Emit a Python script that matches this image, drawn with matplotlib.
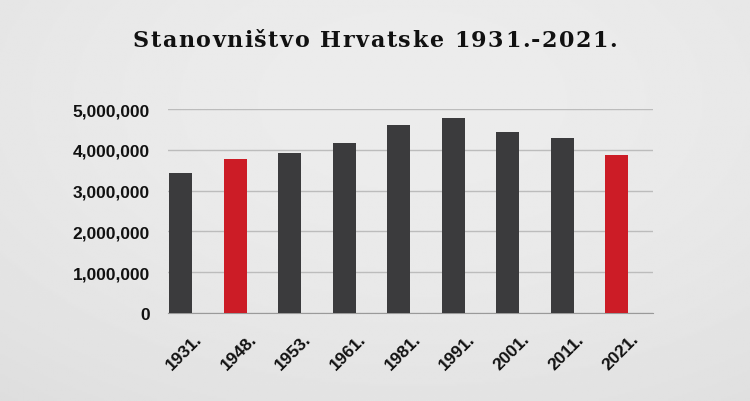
import numpy as np
import matplotlib.pyplot as plt
import matplotlib.transforms as mtrans

years = ['1931.', '1948.', '1953.', '1961.', '1981.', '1991.', '2001.', '2011.', '2021.']
population = [3430270, 3779858, 3936022, 4159696, 4601469, 4784265, 4437460, 4284889, 3871833]
highlight = ['1948.', '2021.']
title = 'Stanovništvo Hrvatske 1931.-2021.'

dark = '#3b3b3d'
red = '#cc1c26'
colors = [red if y in highlight else dark for y in years]

fig = plt.figure(figsize=(7.5, 4.02), dpi=100)

# soft gray background
bg = fig.add_axes([0, 0, 1, 1], zorder=-10)
yy, xx = np.mgrid[0:1:200j, 0:1:400j]
shade = 0.925 - 0.06 * ((xx - 0.55) ** 2 * 1.2 + (yy - 0.25) ** 2)
bg.imshow(shade, cmap='gray', vmin=0, vmax=1, aspect='auto', extent=[0, 1, 0, 1])
bg.axis('off')

ax = fig.add_axes([0.224, 0.219, 0.647, 0.507])
ax.patch.set_alpha(0)
x = np.arange(len(years))
ax.bar(x, population, width=0.42, color=colors, zorder=3)

ax.set_xlim(-0.23, 8.67)
ax.set_ylim(0, 5000000)
ax.set_yticks(np.arange(0, 5000001, 1000000))
ax.set_yticklabels([f'{v:,}' for v in range(0, 5000001, 1000000)],
                   fontfamily='Liberation Sans', fontweight='bold', fontsize=12.5)
ax.set_xticks(x)
ax.set_xticklabels(years, rotation=45, ha='center', fontfamily='Liberation Sans',
                   fontweight='bold', fontsize=12.5)
ax.tick_params(axis='both', length=0, colors='#111111')
ax.tick_params(axis='y', pad=13)
ax.tick_params(axis='x', pad=13)
shift = mtrans.ScaledTranslation(4 / 100, 0, fig.dpi_scale_trans)
for lab in ax.get_xticklabels():
    lab.set_transform(lab.get_transform() + shift)
ax.yaxis.grid(True, color='#bcbcbc', linewidth=1, zorder=0)
for s in ['top', 'right', 'left']:
    ax.spines[s].set_visible(False)
ax.spines['bottom'].set_color('#9a9a9a')

# letter-spaced title, drawn char by char
renderer = fig.canvas.get_renderer()
tstyle = dict(fontfamily='DejaVu Serif', fontweight='bold', fontsize=16, color='#111111')
widths = []
for ch in title:
    t = fig.text(0, 0, ch if ch != ' ' else 'n', **tstyle)
    w = t.get_window_extent(renderer).width
    if ch == ' ':
        w *= 0.5
    widths.append(w)
    t.remove()
tracking = 1.5
total = sum(widths) + tracking * (len(title) - 1)
xpos = 375 - total / 2
for ch, w in zip(title, widths):
    if ch != ' ':
        fig.text(xpos / 750, 0.883, ch, ha='left', va='baseline', **tstyle)
    xpos += w + tracking

fig.savefig('out.png', dpi=100)
